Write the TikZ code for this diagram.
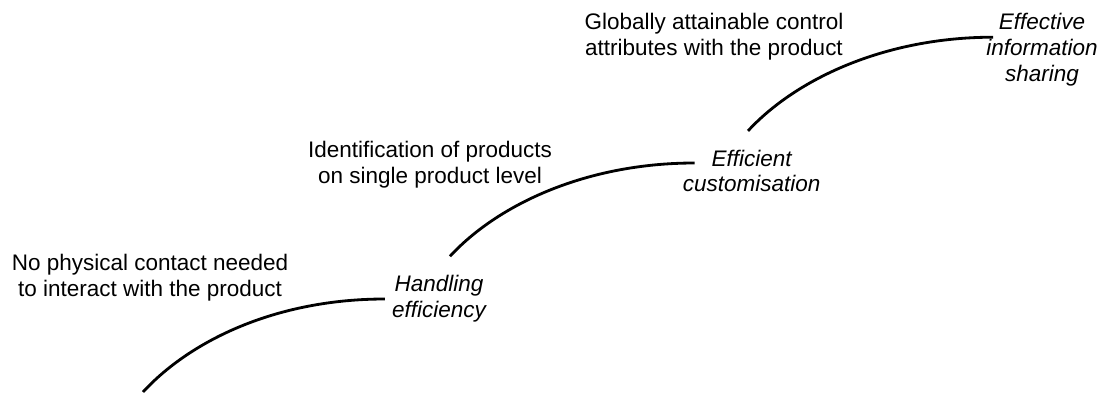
\documentclass[tikz,border=0pt]{standalone}
\usepackage{fontspec}
\setmainfont{Liberation Sans}
\begin{document}
\begin{tikzpicture}[
        feature/.style={align=center, inner sep=5pt, font=\fontsize{16}{18.4}\selectfont},
        benefit/.style={align=center, inner sep=5pt, font=\fontsize{16}{18.4}\selectfont\itshape},
        benefit_curve/.style={line width=2pt},]

        \useasboundingbox (0,0) rectangle (27.5,9.8);

        % Benefits
        \node[benefit] (handling) at (10.975,2.325) {Handling\\efficiency};
        \node[benefit] (custom)   at (18.79,5.525)  {Efficient\\customisation};
        \node[benefit] (sharing)  at (26.05,8.55)   {Effective\\information\\sharing};

        %Features
        \node[feature] (contact) at (3.75,2.85)  {No physical contact needed\\to interact with the product};
        \node[feature] (ident)   at (10.75,5.68) {Identification of products\\on single product level};
        \node[feature] (global)  at (17.85,8.88) {Globally attainable control\\attributes with the product};

        \coordinate (base) at (3.575,0);

        %Curves
        \draw[benefit_curve] (base) .. controls +(1.2,1.3) and +(-2.7,0) .. (handling.west);
        \draw[benefit_curve] ([shift={(0.275,0.3)}]handling.north) .. controls +(1.2,1.3) and +(-2.7,0) .. ([shift={(0.475,0.2)}]custom.west);
        \draw[benefit_curve] ([shift={(-0.09,0.29)}]custom.north) .. controls +(1.2,1.3) and +(-2.7,0) .. ([shift={(0.35,0.32)}]sharing.west);
    \end{tikzpicture}
\end{document}
